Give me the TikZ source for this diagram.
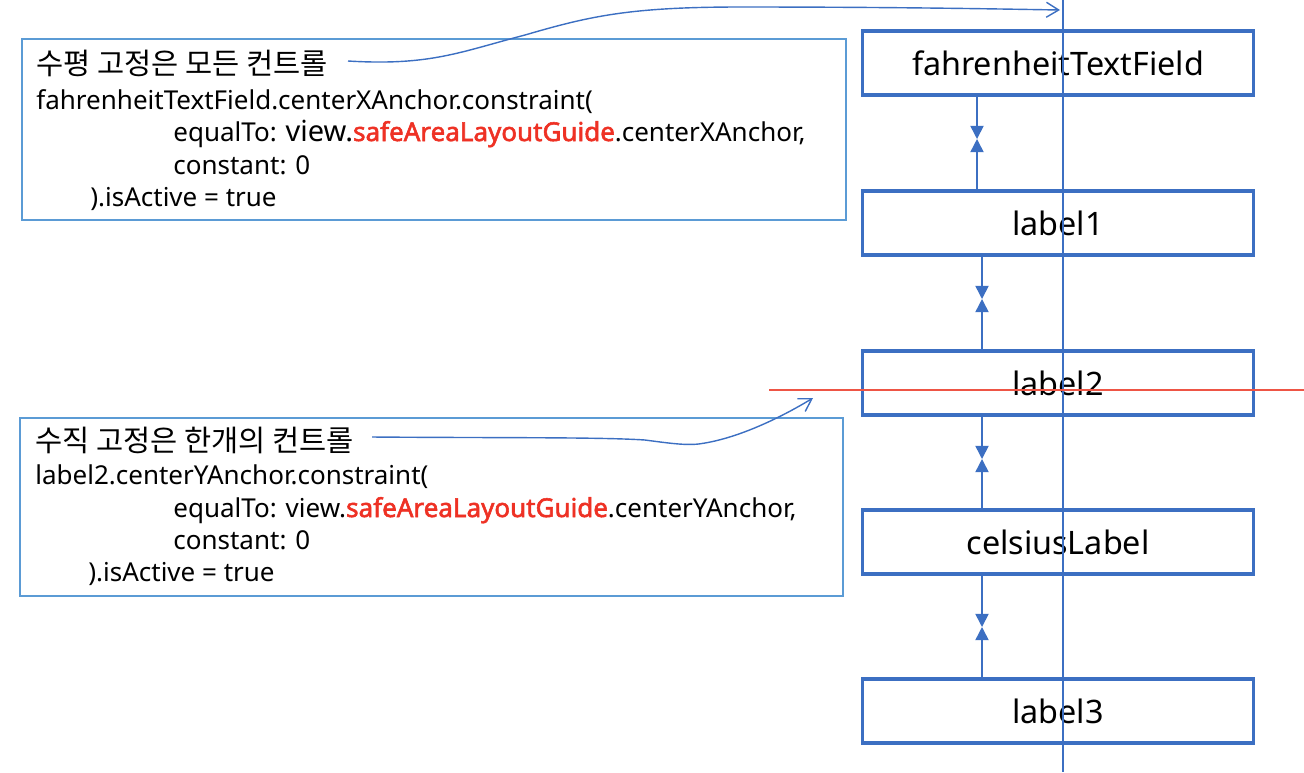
\documentclass[tikz,border=0pt]{standalone}
\usepackage{fontspec}
\setmainfont{Noto Sans}
\newfontfamily\krfont{Noto Sans CJK KR}
\newfontfamily\boldcode{Noto Sans}[FakeBold=2.2]
\usetikzlibrary{arrows.meta,positioning,calc}
\definecolor{boxblue}{HTML}{3C6FC2}
\definecolor{noteblue}{HTML}{5B9BD5}
\definecolor{guidered}{HTML}{EE5545}
\definecolor{codered}{HTML}{EE3124}

\begin{document}
\begin{tikzpicture}[
    x=0.02cm, y=-0.02cm,
    viewbox/.style={draw=boxblue, line width=2pt, minimum width=7.83cm, minimum height=1.28cm, inner sep=0pt, font=\fontsize{18.4}{22}\selectfont},
    notebox/.style={draw=noteblue, line width=0.8pt, inner sep=0pt},
    codeline/.style={anchor=base west, inner sep=0pt, font=\fontsize{14.8}{17}\selectfont},
    korline/.style={codeline, font=\krfont\fontsize{16.8}{19}\selectfont},
    gaparrow/.style={-{Triangle[length=7.5pt, width=7.5pt]}, draw=boxblue, line width=0.9pt},
    callarrow/.style={-{Straight Barb[length=7pt, width=8.5pt]}, draw=boxblue, line width=0.8pt},
    guide/.style={draw=boxblue, line width=0.6pt},
]
    \useasboundingbox (0,0) rectangle (1304,772);

    % =====================================================================
    % Views in the right column
    % =====================================================================
    \node[viewbox] (ftf) at (1058, 63) {fahrenheitTextField};
    \node[viewbox] (label1) at (1058, 223) {label1};
    \node[viewbox] (label2) at (1058, 383) {label2};
    \node[viewbox] (celsius) at (1058, 542) {celsiusLabel};
    \node[viewbox] (label3) at (1058, 711) {label3};

    % Spacing constraints between the views
    \coordinate (g1) at (977, 139);
    \coordinate (g2) at (982, 299);
    \coordinate (g3) at (982, 459);
    \coordinate (g4) at (982, 627);

    \draw[gaparrow] (ftf.south -| g1) -- (g1);
    \draw[gaparrow] (label1.north -| g1) -- (g1);
    \draw[gaparrow] (label1.south -| g2) -- (g2);
    \draw[gaparrow] (label2.north -| g2) -- (g2);
    \draw[gaparrow] (label2.south -| g3) -- (g3);
    \draw[gaparrow] (celsius.north -| g3) -- (g3);
    \draw[gaparrow] (celsius.south -| g4) -- (g4);
    \draw[gaparrow] (label3.north -| g4) -- (g4);

    % Center guides
    \coordinate (vtop) at (1063, 0);
    \coordinate (vbot) at (1063, 772);
    \draw[guide] (vtop) -- (vbot);
    \coordinate (hleft) at (769, 390);
    \coordinate (hright) at (1304, 390);
    \draw[guidered, line width=0.8pt] (hleft) -- (hright);

    % =====================================================================
    % Horizontal constraint note
    % =====================================================================
    \node[notebox, minimum width=16.48cm, minimum height=3.62cm] (topnote) at (434, 129.5) {};
    \node[korline] (t1) at (36, 74) {수평 고정은 모든 컨트롤};
    \node[codeline] (t2) at (36, 109) {fahrenheitTextField.centerXAnchor.constraint(};
    \node[codeline] (t3) at (173, 141) {equalTo: {\fontsize{16.5}{18}\selectfont view.}\textcolor{codered}{\boldcode safeAreaLayoutGuide}.centerXAnchor,};
    \node[codeline] (t4) at (173, 174) {constant: 0};
    \node[codeline] (t5) at (90, 206) {).isActive = true};

    \coordinate (tstart) at (348, 61);
    \coordinate (ttip) at (1060, 10);
    \draw[callarrow] (tstart) .. controls (430, 66) and (460, 52) .. (525, 35)
        .. controls (590, 16) and (630, 7) .. (740, 7)
        .. controls (900, 7) and (1000, 9) .. (ttip);

    % =====================================================================
    % Vertical constraint note
    % =====================================================================
    \node[notebox, minimum width=16.46cm, minimum height=3.56cm] (botnote) at (431.5, 507) {};
    \node[korline] (b1) at (35, 451) {수직 고정은 한개의 컨트롤};
    \node[codeline] (b2) at (35, 484) {label2.centerYAnchor.constraint(};
    \node[codeline] (b3) at (173, 517) {equalTo: view.\textcolor{codered}{\boldcode safeAreaLayoutGuide}.centerYAnchor,};
    \node[codeline] (b4) at (173, 549) {constant: 0};
    \node[codeline] (b5) at (88, 581) {).isActive = true};

    \coordinate (bstart) at (372, 437);
    \coordinate (btip) at (813, 398);
    \draw[callarrow] (bstart) .. controls (500, 438) and (600, 437) .. (645, 440)
        .. controls (675, 444) and (690, 446) .. (705, 443)
        .. controls (740, 437) and (780, 418) .. (btip);

\end{tikzpicture}
\end{document}
